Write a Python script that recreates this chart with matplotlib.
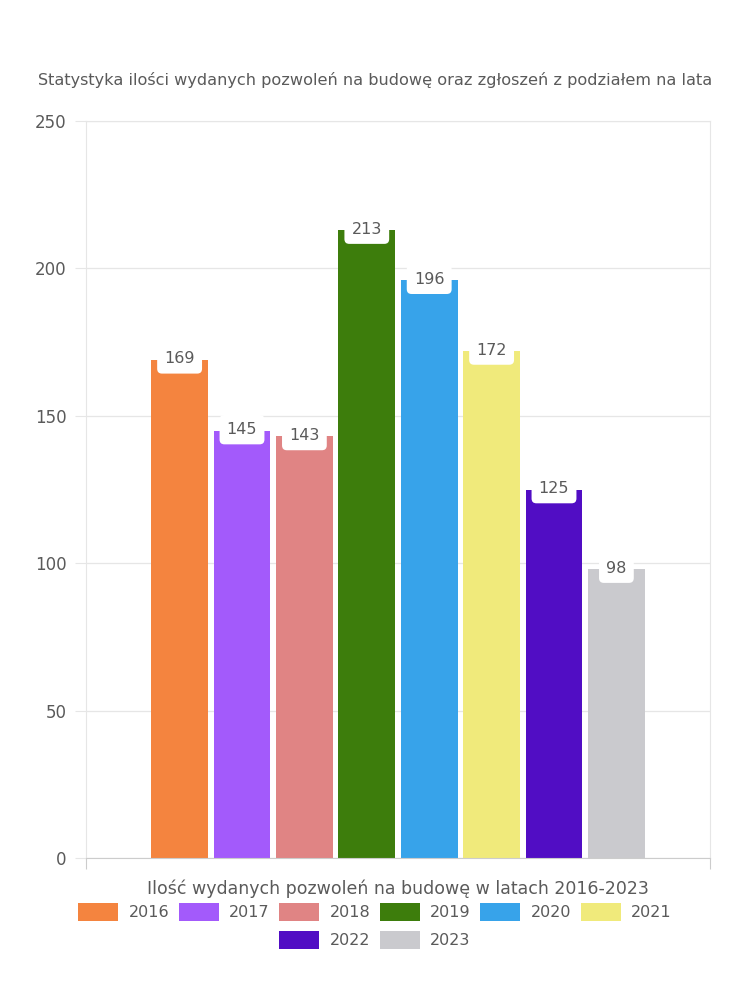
import matplotlib.pyplot as plt
import numpy as np
from matplotlib.patches import Patch

lata = ["2016", "2017", "2018", "2019", "2020", "2021", "2022", "2023"]
pozwolenia = [169, 145, 143, 213, 196, 172, 125, 98]
kolory = ["#F4843F", "#A35AFB", "#E08484", "#3D7D0C", "#37A3EA", "#F0EA7B", "#510DC4", "#CACACE"]
y_ticks = [0, 50, 100, 150, 200, 250]

TEKST = "#5a5a5a"
SIATKA = "#e6e6e6"

plt.rcParams["font.family"] = ["DejaVu Sans"]

fig = plt.figure(figsize=(7.5, 10), dpi=100)
ax = fig.add_axes([86 / 750, 142 / 1000, 624 / 750, 737 / 1000])

n = len(lata)
slot = 0.1
szer = 0.0913
x = (np.arange(n) - (n - 1) / 2) * slot

ax.bar(x, pozwolenia, width=szer, color=kolory, zorder=2)

for xi, v in zip(x, pozwolenia):
    ax.text(xi, v + 0.3, str(v), ha="center", va="center", fontsize=11.5, color=TEKST, zorder=3,
            bbox=dict(boxstyle="round,pad=0.45,rounding_size=0.3", fc="white", ec="none"))

ax.set_xlim(-0.5, 0.5)
ax.set_ylim(0, 250)
ax.set_yticks(y_ticks)
ax.set_xticks([-0.5, 0.5])
ax.set_xticklabels(["", ""])
ax.grid(axis="y", color=SIATKA, linewidth=0.9, zorder=0)

for s in ["top", "right", "left"]:
    ax.spines[s].set_color(SIATKA)
ax.spines["bottom"].set_color("#cccccc")
ax.tick_params(axis="y", colors=SIATKA, labelcolor=TEKST, labelsize=12, length=8, pad=6)
ax.tick_params(axis="x", colors="#cccccc", length=8)

ax.set_xlabel("Ilość wydanych pozwoleń na budowę w latach 2016-2023", fontsize=12.5, color=TEKST, labelpad=4)

fig.text(0.5, 0.92, "Statystyka ilości wydanych pozwoleń na budowę oraz zgłoszeń z podziałem na lata",
         ha="center", va="center", fontsize=11.6, color=TEKST)

# legenda w dwoch rzedach: 6 + 2
uchwyty = [Patch(facecolor=c, edgecolor="none") for c in kolory]
leg_kw = dict(frameon=False, fontsize=11.5, labelcolor=TEKST, handlelength=2.5, handleheight=1.35,
              handletextpad=0.65, columnspacing=0.6, borderpad=0)
fig.legend(uchwyty[:6], lata[:6], ncol=6, loc="center", bbox_to_anchor=(0.5, 0.088), **leg_kw)
fig.legend(uchwyty[6:], lata[6:], ncol=2, loc="center", bbox_to_anchor=(0.5, 0.060), **leg_kw)

fig.savefig("out.png", dpi=100, facecolor="white")
